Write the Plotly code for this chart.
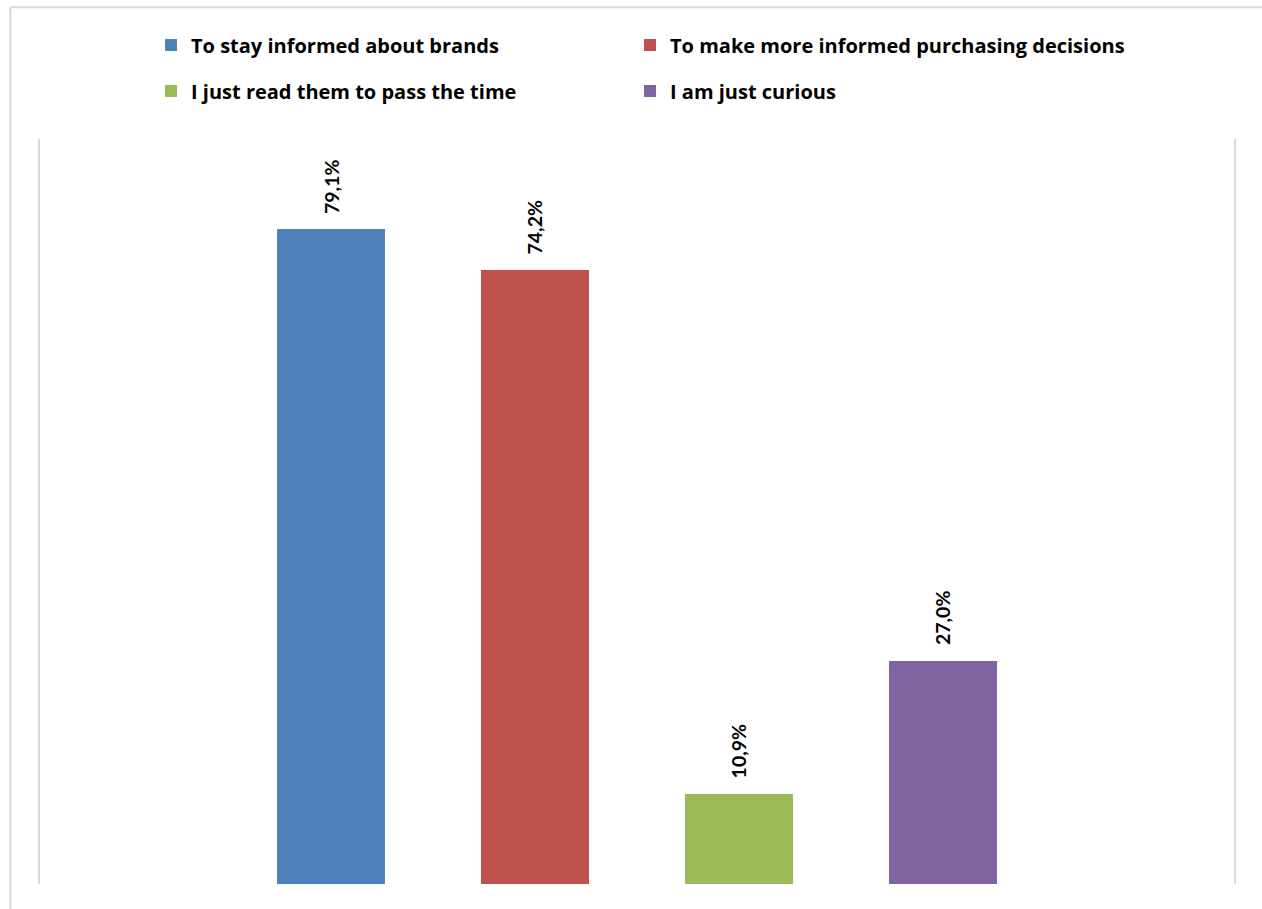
import plotly.graph_objects as go

# Survey: reasons for reading brand-related content (share of respondents, %)
reasons = [
    "To stay informed about brands",
    "To make more informed purchasing decisions",
    "I just read them to pass the time",
    "I am just curious",
]
shares = [79.1, 74.2, 10.9, 27.0]
colors = ["#4F81BD", "#C0504D", "#9BBB59", "#8064A2"]
legend_ids = ["legend", "legend2", "legend3", "legend4"]

W, H = 1262, 909
L, R, T, B = 39, 27, 139, 25
plot_h = H - T - B


def py(pix):
    """Convert a pixel row (from top) into paper y."""
    return (H - B - pix) / plot_h


def px(pix):
    """Convert a pixel column into paper x."""
    return (pix - L) / (W - L - R)


fig = go.Figure()
for i, (name, val, col, lg) in enumerate(zip(reasons, shares, colors, legend_ids)):
    fig.add_trace(go.Bar(
        x=[i], y=[val], name=name, width=0.53,
        marker=dict(color=col, line=dict(width=0)),
        legend=lg, hoverinfo="skip",
    ))
    fig.add_annotation(
        x=i, y=val, xref="x", yref="y",
        text="{:.1f}%".format(val).replace(".", ","),
        textangle=-90, showarrow=False,
        xanchor="center", yanchor="bottom", yshift=13,
        font=dict(family="Lato", size=19.5, color="#000000", weight="bold"),
    )

grid_col = "#D9D9D9"
shapes = [
    # inner frame lines at both sides of the plot area
    dict(type="line", xref="paper", yref="paper", x0=0, x1=0, y0=0, y1=1,
         line=dict(color=grid_col, width=2)),
    dict(type="line", xref="paper", yref="paper", x0=1, x1=1, y0=0, y1=1,
         line=dict(color=grid_col, width=2)),
    # outer chart border
    dict(type="line", xref="paper", yref="paper", x0=px(10.3), x1=px(10.3),
         y0=py(7.3), y1=py(H + 20), line=dict(color=grid_col, width=2)),
    dict(type="line", xref="paper", yref="paper", x0=px(10.3), x1=px(W + 20),
         y0=py(7.3), y1=py(7.3), line=dict(color=grid_col, width=2)),
]

legend_font = dict(family="Open Sans", size=20, color="#000000", weight="bold")
common_legend = dict(
    orientation="h", xanchor="left", yanchor="middle",
    font=legend_font,
    bgcolor="rgba(0,0,0,0)", borderwidth=0, itemclick=False,
)

# legend entries laid out in a 2 x 2 grid (column x, row y in pixels)
legend_pos = [(151, 45), (630, 45), (151, 91), (630, 91)]
legend_layout = {
    lg: dict(x=px(cx), y=py(cy), **common_legend)
    for lg, (cx, cy) in zip(legend_ids, legend_pos)
}

fig.update_layout(
    width=W, height=H,
    margin=dict(l=L, r=R, t=T, b=B),
    paper_bgcolor="white", plot_bgcolor="white",
    bargap=0,
    shapes=shapes,
    showlegend=True,
    xaxis=dict(range=[-1.431, 4.434], visible=False, fixedrange=True),
    yaxis=dict(range=[0, 90], visible=False, fixedrange=True),
    **legend_layout,
)

fig.write_html("out.html")
